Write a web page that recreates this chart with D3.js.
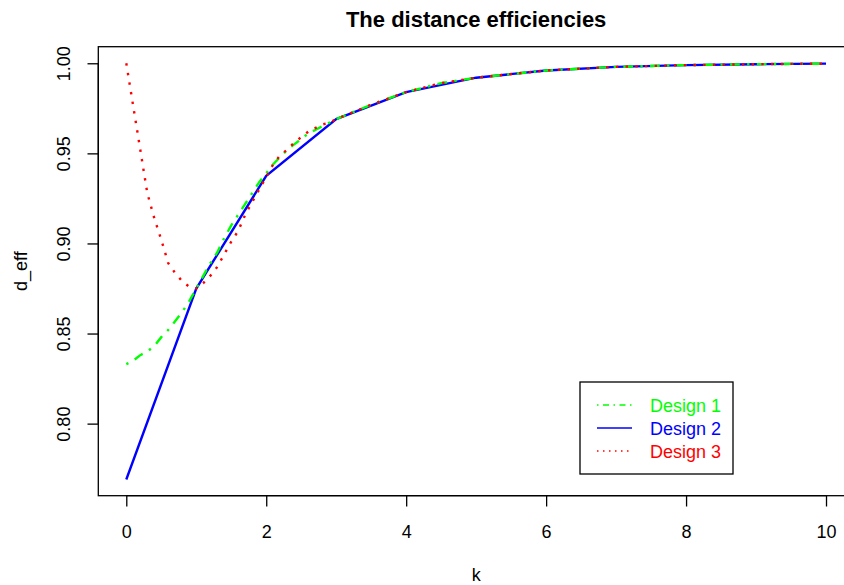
<!DOCTYPE html>
<html>
<head>
<meta charset="utf-8">
<script src="https://cdn.jsdelivr.net/npm/d3@7"></script>
<style>
  body { margin: 0; background: #fff; }
  text { font-family: "Liberation Sans", Arial, Helvetica, sans-serif; }
</style>
</head>
<body>
<div class="chart"></div>
<script>
// values
const kFine = [0, 0.1, 0.2, 0.3, 0.4, 0.5, 0.6, 0.7, 0.8, 0.9,
    1.0, 1.1, 1.2, 1.3, 1.4, 1.5, 1.6, 1.7, 1.8, 1.9,
    2.0, 2.1, 2.2, 2.3, 2.4, 2.5, 2.6, 2.7, 2.8, 2.9,
    3.0, 3.5, 4, 4.5, 5, 6, 7, 8, 9, 10]
const design1 = [0.833, 0.835, 0.838, 0.840, 0.843, 0.848, 0.852, 0.857, 0.862, 0.868,
    0.875, 0.882, 0.889, 0.895, 0.903, 0.910, 0.916, 0.922, 0.928, 0.934,
    0.939, 0.944, 0.948, 0.952, 0.955, 0.958, 0.961, 0.963, 0.965, 0.967,
    0.969, 0.977, 0.984, 0.989, 0.992, 0.996, 0.998, 0.999, 0.9995, 0.9998]
const design3 = [1.000, 0.976, 0.952, 0.928, 0.914, 0.902, 0.889, 0.8835, 0.879, 0.876,
    0.875, 0.878, 0.882, 0.887, 0.894, 0.901, 0.907, 0.916, 0.923, 0.930,
    0.937, 0.944, 0.949, 0.952, 0.956, 0.959, 0.962, 0.964, 0.966, 0.967,
    0.969, 0.977, 0.984, 0.989, 0.992, 0.996, 0.998, 0.999, 0.9995, 0.9998]
const kInt = [0, 1, 2, 3, 4, 5, 6, 7, 8, 9, 10]
const design2 = [0.769, 0.875, 0.9375, 0.969, 0.984, 0.992, 0.996, 0.998, 0.999, 0.9995, 0.9998]

const xTicks = [0, 2, 4, 6, 8, 10]
const yTicks = [0.80, 0.85, 0.90, 0.95, 1.00]
const legendNames = ["Design 1", "Design 2", "Design 3"]

let width = 844
let height = 585

let svg = d3.select(".chart")
    .append("svg")
    .attr("width", width)
    .attr("height", height)

// R-style extended ranges (4% padding)
let x = d3.scaleLinear().domain([-0.4, 10.4]).range([98.3, 854])
let y = d3.scaleLinear().domain([0.7600, 1.0092]).range([495.7, 46.7])

// plot box
svg.append("rect")
    .attr("x", x(-0.4)).attr("y", y(1.0092))
    .attr("width", x(10.4) - x(-0.4)).attr("height", y(0.76) - y(1.0092))
    .attr("fill", "none").attr("stroke", "#000").attr("stroke-width", 1.3)

// x axis
let xAxis = svg.append("g")
    .attr("transform", "translate(0," + y(0.76) + ")")
    .call(d3.axisBottom(x).tickValues(xTicks).tickSize(10.8).tickPadding(0).tickFormat(d3.format("d")))
xAxis.select(".domain").attr("d", "M" + x(0) + ",0H" + x(10)).attr("stroke-width", 1.3)
xAxis.selectAll(".tick line").attr("stroke-width", 1.3)
xAxis.selectAll(".tick text")
    .attr("y", 42).attr("dy", null)
    .style("font-size", "18px").attr("fill", "#000")

// y axis
let yAxis = svg.append("g")
    .attr("transform", "translate(" + x(-0.4) + ",0)")
    .call(d3.axisLeft(y).tickValues(yTicks).tickSize(10.8).tickFormat(d3.format(".2f")))
yAxis.select(".domain").attr("d", "M0," + y(0.80) + "V" + y(1.00)).attr("stroke-width", 1.3)
yAxis.selectAll(".tick line").attr("stroke-width", 1.3)
yAxis.selectAll(".tick text")
    .attr("x", null).attr("dy", null)
    .attr("transform", "translate(-28.3,0) rotate(-90)")
    .style("text-anchor", "middle")
    .style("font-size", "18px").attr("fill", "#000")

// titles
svg.append("text")
    .attr("x", (x(-0.4) + x(10.4)) / 2).attr("y", 27)
    .style("text-anchor", "middle").style("font-size", "22px").style("font-weight", "bold")
    .text("The distance efficiencies")
svg.append("text")
    .attr("x", (x(-0.4) + x(10.4)) / 2).attr("y", 581)
    .style("text-anchor", "middle").style("font-size", "18px")
    .text("k")
svg.append("text")
    .attr("transform", "translate(27," + (y(0.76) + y(1.0092)) / 2 + ") rotate(-90)")
    .style("text-anchor", "middle").style("font-size", "18px")
    .text("d_eff")

// lines
let line = d3.line()
    .x(d => x(d[0]))
    .y(d => y(d[1]))

let series = [
    {data: d3.zip(kInt, design2), color: "#0000ff", dash: null},
    {data: d3.zip(kFine, design1), color: "#00ff00", dash: "2.4,7.3,9.7,7.3"},
    {data: d3.zip(kFine, design3), color: "#ff0000", dash: "2.4,7.3"}
]

svg.selectAll("path.series")
    .data(series)
    .enter()
    .append("path")
    .attr("class", "series")
    .attr("d", d => line(d.data))
    .attr("fill", "none")
    .attr("stroke", d => d.color)
    .attr("stroke-width", 2.4)
    .attr("stroke-dasharray", d => d.dash)

// legend
let legendItems = [
    {name: legendNames[0], color: "#00ff00", dash: "1.5,4.5,6,4.5"},
    {name: legendNames[1], color: "#0000ff", dash: null},
    {name: legendNames[2], color: "#ff0000", dash: "1.5,4.5"}
]
let legend = svg.append("g")
legend.append("rect")
    .attr("x", 580).attr("y", 382)
    .attr("width", 153).attr("height", 92)
    .attr("fill", "#fff").attr("stroke", "#000").attr("stroke-width", 1.3)

let rows = legend.selectAll("g.row")
    .data(legendItems)
    .enter()
    .append("g")
    .attr("transform", (d, i) => "translate(0," + (405 + i * 23) + ")")
rows.append("line")
    .attr("x1", 597).attr("x2", 632)
    .attr("y1", 0).attr("y2", 0)
    .attr("stroke", d => d.color)
    .attr("stroke-width", 1.5)
    .attr("stroke-dasharray", d => d.dash)
rows.append("text")
    .attr("x", 650).attr("y", 6.5)
    .style("font-size", "18px")
    .attr("fill", d => d.color)
    .text(d => d.name)
</script>
</body>
</html>
